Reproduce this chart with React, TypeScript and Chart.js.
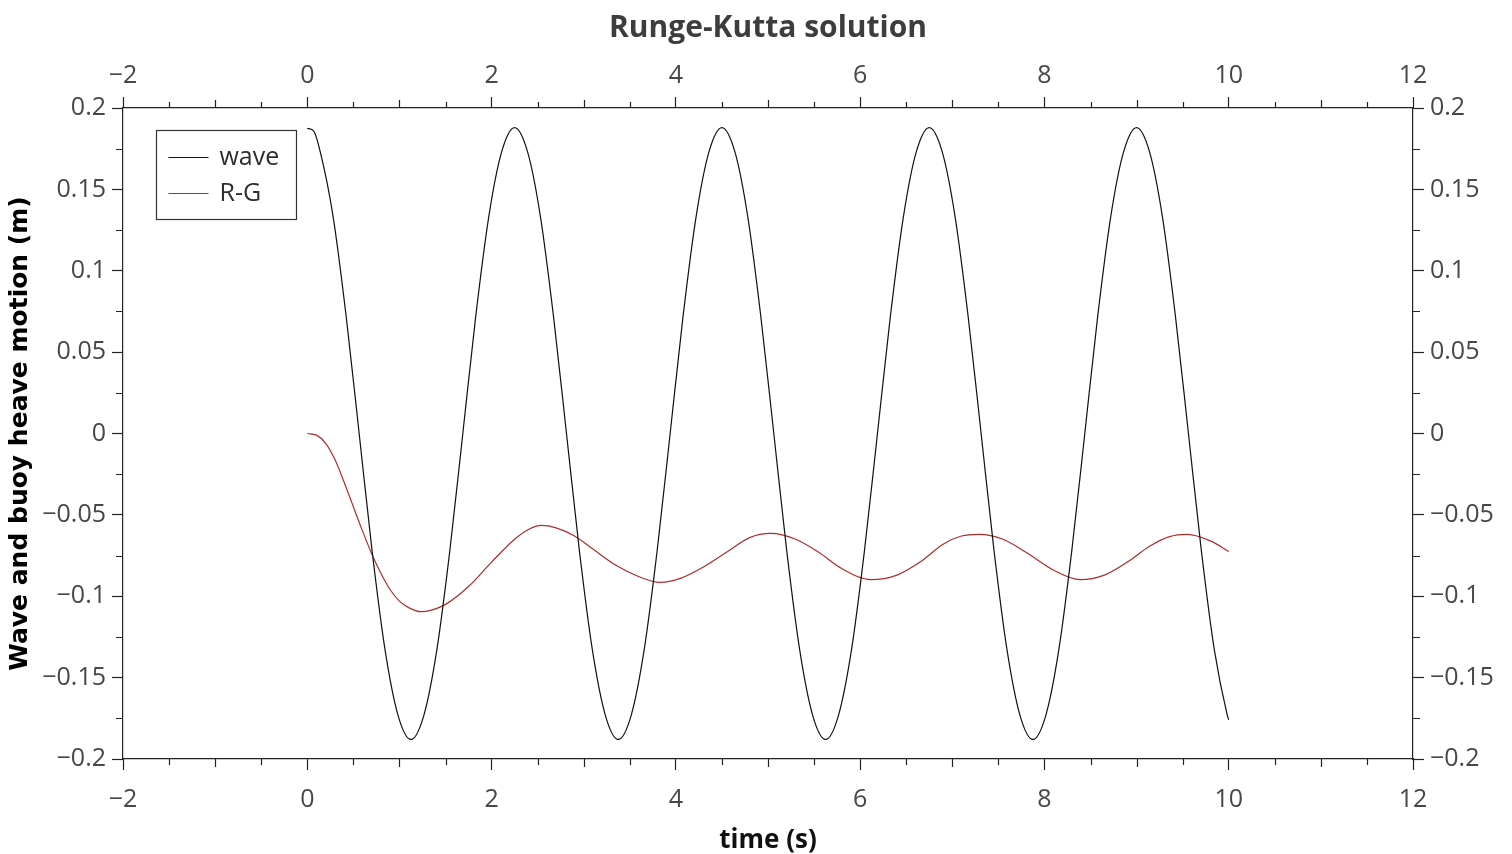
import React, { useEffect, useRef } from 'react';
import { Chart, registerables } from 'chart.js';

Chart.register(...registerables);

// Incident wave elevation (m) sampled over 0–10 s
const waveTime = [
  0, 0.07, 0.141, 0.281, 0.422, 0.563, 0.703, 0.844, 0.984, 1.125, 1.266, 1.406, 1.547, 1.688, 1.828, 1.969, 2.109,
  2.25, 2.391, 2.531, 2.672, 2.813, 2.953, 3.094, 3.234, 3.375, 3.516, 3.656, 3.797, 3.938, 4.078, 4.219, 4.359,
  4.5, 4.641, 4.781, 4.922, 5.063, 5.203, 5.344, 5.484, 5.625, 5.766, 5.906, 6.047, 6.188, 6.328, 6.469, 6.609,
  6.75, 6.891, 7.031, 7.172, 7.313, 7.453, 7.594, 7.734, 7.875, 8.016, 8.156, 8.297, 8.438, 8.578, 8.719, 8.859,
  9.0, 9.141, 9.281, 9.422, 9.563, 9.703, 9.844, 9.984, 10,
];
const waveHeight = [
  0.1875, 0.1858, 0.173, 0.133, 0.072, 0, -0.072, -0.133, -0.173, -0.188, -0.173, -0.133, -0.072, 0, 0.072, 0.133, 0.173,
  0.188, 0.173, 0.133, 0.072, 0, -0.072, -0.133, -0.173, -0.188, -0.173, -0.133, -0.072, 0, 0.072, 0.133, 0.173,
  0.188, 0.173, 0.133, 0.072, 0, -0.072, -0.133, -0.173, -0.188, -0.173, -0.133, -0.072, 0, 0.072, 0.133, 0.173,
  0.188, 0.173, 0.133, 0.072, 0, -0.072, -0.133, -0.173, -0.188, -0.173, -0.133, -0.072, 0, 0.072, 0.133, 0.173,
  0.188, 0.173, 0.133, 0.072, 0, -0.072, -0.133, -0.173, -0.176,
];

// Buoy heave response from the Runge-Kutta integration (m)
const buoyTime = [
  0, 0.1, 0.2, 0.3, 0.4, 0.5, 0.6, 0.7, 0.8, 0.9, 1.0, 1.1, 1.23, 1.35, 1.5, 1.75, 2.0, 2.25, 2.4, 2.54,
  2.7, 2.9, 3.1, 3.35, 3.6, 3.83, 4.05, 4.3, 4.55, 4.8, 5.03, 5.3, 5.55, 5.8, 6.12, 6.4, 6.65, 6.9, 7.1,
  7.29, 7.55, 7.8, 8.1, 8.39, 8.65, 8.9, 9.15, 9.35, 9.55, 9.8, 10,
];
const buoyHeave = [
  0, -0.001, -0.006, -0.016, -0.03, -0.045, -0.06, -0.074, -0.086, -0.096, -0.103, -0.107, -0.1095, -0.1085,
  -0.105, -0.094, -0.079, -0.065, -0.059, -0.0565, -0.058, -0.063, -0.071, -0.081, -0.088, -0.0915, -0.089,
  -0.082, -0.073, -0.064, -0.0614, -0.065, -0.073, -0.083, -0.0898, -0.087, -0.079, -0.068, -0.063, -0.062,
  -0.065, -0.073, -0.084, -0.0898, -0.087, -0.079, -0.069, -0.0635, -0.062, -0.066, -0.0725,
];

const X_MIN = -2;
const X_MAX = 12;
const X_STEP = 2;
const Y_MIN = -0.2;
const Y_MAX = 0.2;
const Y_STEP = 0.05;

const AXIS_COLOR = '#222222';
const LABEL_COLOR = '#474747';
const TICK_FONT = { family: "'Open Sans', sans-serif", size: 25 };

const fmt = (v: number) => {
  const r = Math.round(v * 1000) / 1000;
  const s = String(Math.abs(r));
  return r < 0 ? '\u2212' + s : s;
};

// Minor tick marks on all four sides plus the boxed legend in the upper left
const frameDecor = {
  id: 'frameDecor',
  afterDraw(chart: any) {
    const { ctx, chartArea: a, scales } = chart;
    const xs = scales.x;
    const ys = scales.y;
    ctx.save();
    ctx.strokeStyle = AXIS_COLOR;
    ctx.lineWidth = 1.2;
    ctx.beginPath();
    for (let i = X_MIN * 2; i <= X_MAX * 2; i++) {
      if (i % 4 === 0) continue;
      const len = i % 2 === 0 ? 8 : 6;
      const px = Math.round(xs.getPixelForValue(i / 2)) + 0.5;
      ctx.moveTo(px, a.bottom);
      ctx.lineTo(px, a.bottom + len);
      ctx.moveTo(px, a.top);
      ctx.lineTo(px, a.top - len);
    }
    for (let j = -8; j <= 8; j++) {
      if (j % 2 === 0) continue;
      const py = Math.round(ys.getPixelForValue(j * 0.025)) + 0.5;
      ctx.moveTo(a.left, py);
      ctx.lineTo(a.left - 7, py);
      ctx.moveTo(a.right, py);
      ctx.lineTo(a.right + 7, py);
    }
    ctx.stroke();

    // legend
    const bx = Math.round(a.left + 33) + 0.5;
    const by = Math.round(a.top + 22) + 0.5;
    const bw = 140;
    const bh = 89;
    ctx.fillStyle = '#ffffff';
    ctx.fillRect(bx, by, bw, bh);
    ctx.strokeStyle = '#333333';
    ctx.lineWidth = 1.2;
    ctx.strokeRect(bx, by, bw, bh);
    ctx.font = "25px 'Open Sans', sans-serif";
    ctx.textBaseline = 'middle';
    ctx.textAlign = 'left';
    chart.data.datasets.forEach((ds: any, k: number) => {
      const y = by + 27 + k * 36;
      ctx.strokeStyle = ds.borderColor;
      ctx.lineWidth = 1.2;
      ctx.beginPath();
      ctx.moveTo(bx + 12, y);
      ctx.lineTo(bx + 52, y);
      ctx.stroke();
      ctx.fillStyle = '#2e2e2e';
      ctx.fillText(ds.label, bx + 63, y);
    });
    ctx.restore();
  },
};

const majorGrid = {
  drawOnChartArea: false,
  drawTicks: true,
  tickLength: 11,
  tickColor: AXIS_COLOR,
  tickWidth: 1.2,
};
const axisBorder = { display: true, color: AXIS_COLOR, width: 1.2 };

export default function App() {
  const canvasRef = useRef<HTMLCanvasElement | null>(null);

  useEffect(() => {
    document.body.style.margin = '0';
    const canvas = canvasRef.current;
    if (!canvas) return;
    const chart = new Chart(canvas, {
      type: 'line',
      data: {
        datasets: [
          {
            label: 'wave',
            data: waveTime.map((t, i) => ({ x: t, y: waveHeight[i] })),
            borderColor: '#111111',
            borderWidth: 1.2,
            pointRadius: 0,
            cubicInterpolationMode: 'monotone',
            fill: false,
          },
          {
            label: 'R-G',
            data: buoyTime.map((t, i) => ({ x: t, y: buoyHeave[i] })),
            borderColor: '#b02c2c',
            borderWidth: 1.2,
            pointRadius: 0,
            cubicInterpolationMode: 'monotone',
            fill: false,
          },
        ],
      },
      options: {
        responsive: false,
        maintainAspectRatio: false,
        animation: false,
        layout: { padding: 0 },
        plugins: {
          legend: { display: false },
          tooltip: { enabled: false },
          title: { display: false },
        },
        scales: {
          x: {
            type: 'linear',
            position: 'bottom',
            min: X_MIN,
            max: X_MAX,
            ticks: { stepSize: X_STEP, color: LABEL_COLOR, font: TICK_FONT, padding: 15, maxRotation: 0, callback: (v: any) => fmt(Number(v)) },
            grid: majorGrid,
            border: axisBorder,
            title: {
              display: true,
              text: 'time (s)',
              color: '#111111',
              font: { family: "'Open Sans', sans-serif", size: 26, weight: 'bold', lineHeight: 1.2 },
              padding: { top: 0, bottom: -2 },
            },
            afterFit: (s: any) => { s.height = 95; },
          },
          x2: {
            type: 'linear',
            position: 'top',
            min: X_MIN,
            max: X_MAX,
            ticks: { stepSize: X_STEP, color: LABEL_COLOR, font: TICK_FONT, padding: 6, maxRotation: 0, callback: (v: any) => fmt(Number(v)) },
            grid: majorGrid,
            border: axisBorder,
            title: {
              display: true,
              text: 'Runge-Kutta solution',
              color: '#3d3d3d',
              font: { family: "'Open Sans', sans-serif", size: 30, weight: 'bold', lineHeight: 1.2 },
              padding: { top: 10, bottom: 0 },
            },
            afterFit: (s: any) => { s.height = 108; },
          },
          y: {
            type: 'linear',
            position: 'left',
            min: Y_MIN,
            max: Y_MAX,
            ticks: { stepSize: Y_STEP, color: LABEL_COLOR, font: TICK_FONT, padding: 6, callback: (v: any) => fmt(Number(v)) },
            grid: majorGrid,
            border: axisBorder,
            title: {
              display: true,
              text: 'Wave and buoy heave motion (m)',
              color: '#000000',
              font: { family: "'DejaVu Sans', sans-serif", size: 25, weight: 'bold', lineHeight: 1.2 },
              padding: { top: 5, bottom: 0 },
            },
            afterFit: (s: any) => { s.width = 123; },
          },
          y2: {
            type: 'linear',
            position: 'right',
            min: Y_MIN,
            max: Y_MAX,
            ticks: { stepSize: Y_STEP, color: LABEL_COLOR, font: TICK_FONT, padding: 6, callback: (v: any) => fmt(Number(v)) },
            grid: majorGrid,
            border: axisBorder,
            afterFit: (s: any) => { s.width = 99; },
          },
        },
      },
      plugins: [frameDecor],
    } as any);
    return () => chart.destroy();
  }, []);

  return (
    <div style={{ position: 'fixed', left: 0, top: 0, width: 1512, height: 854, background: '#ffffff' }}>
      <canvas ref={canvasRef} width={1512} height={854} style={{ display: 'block' }} />
    </div>
  );
}
